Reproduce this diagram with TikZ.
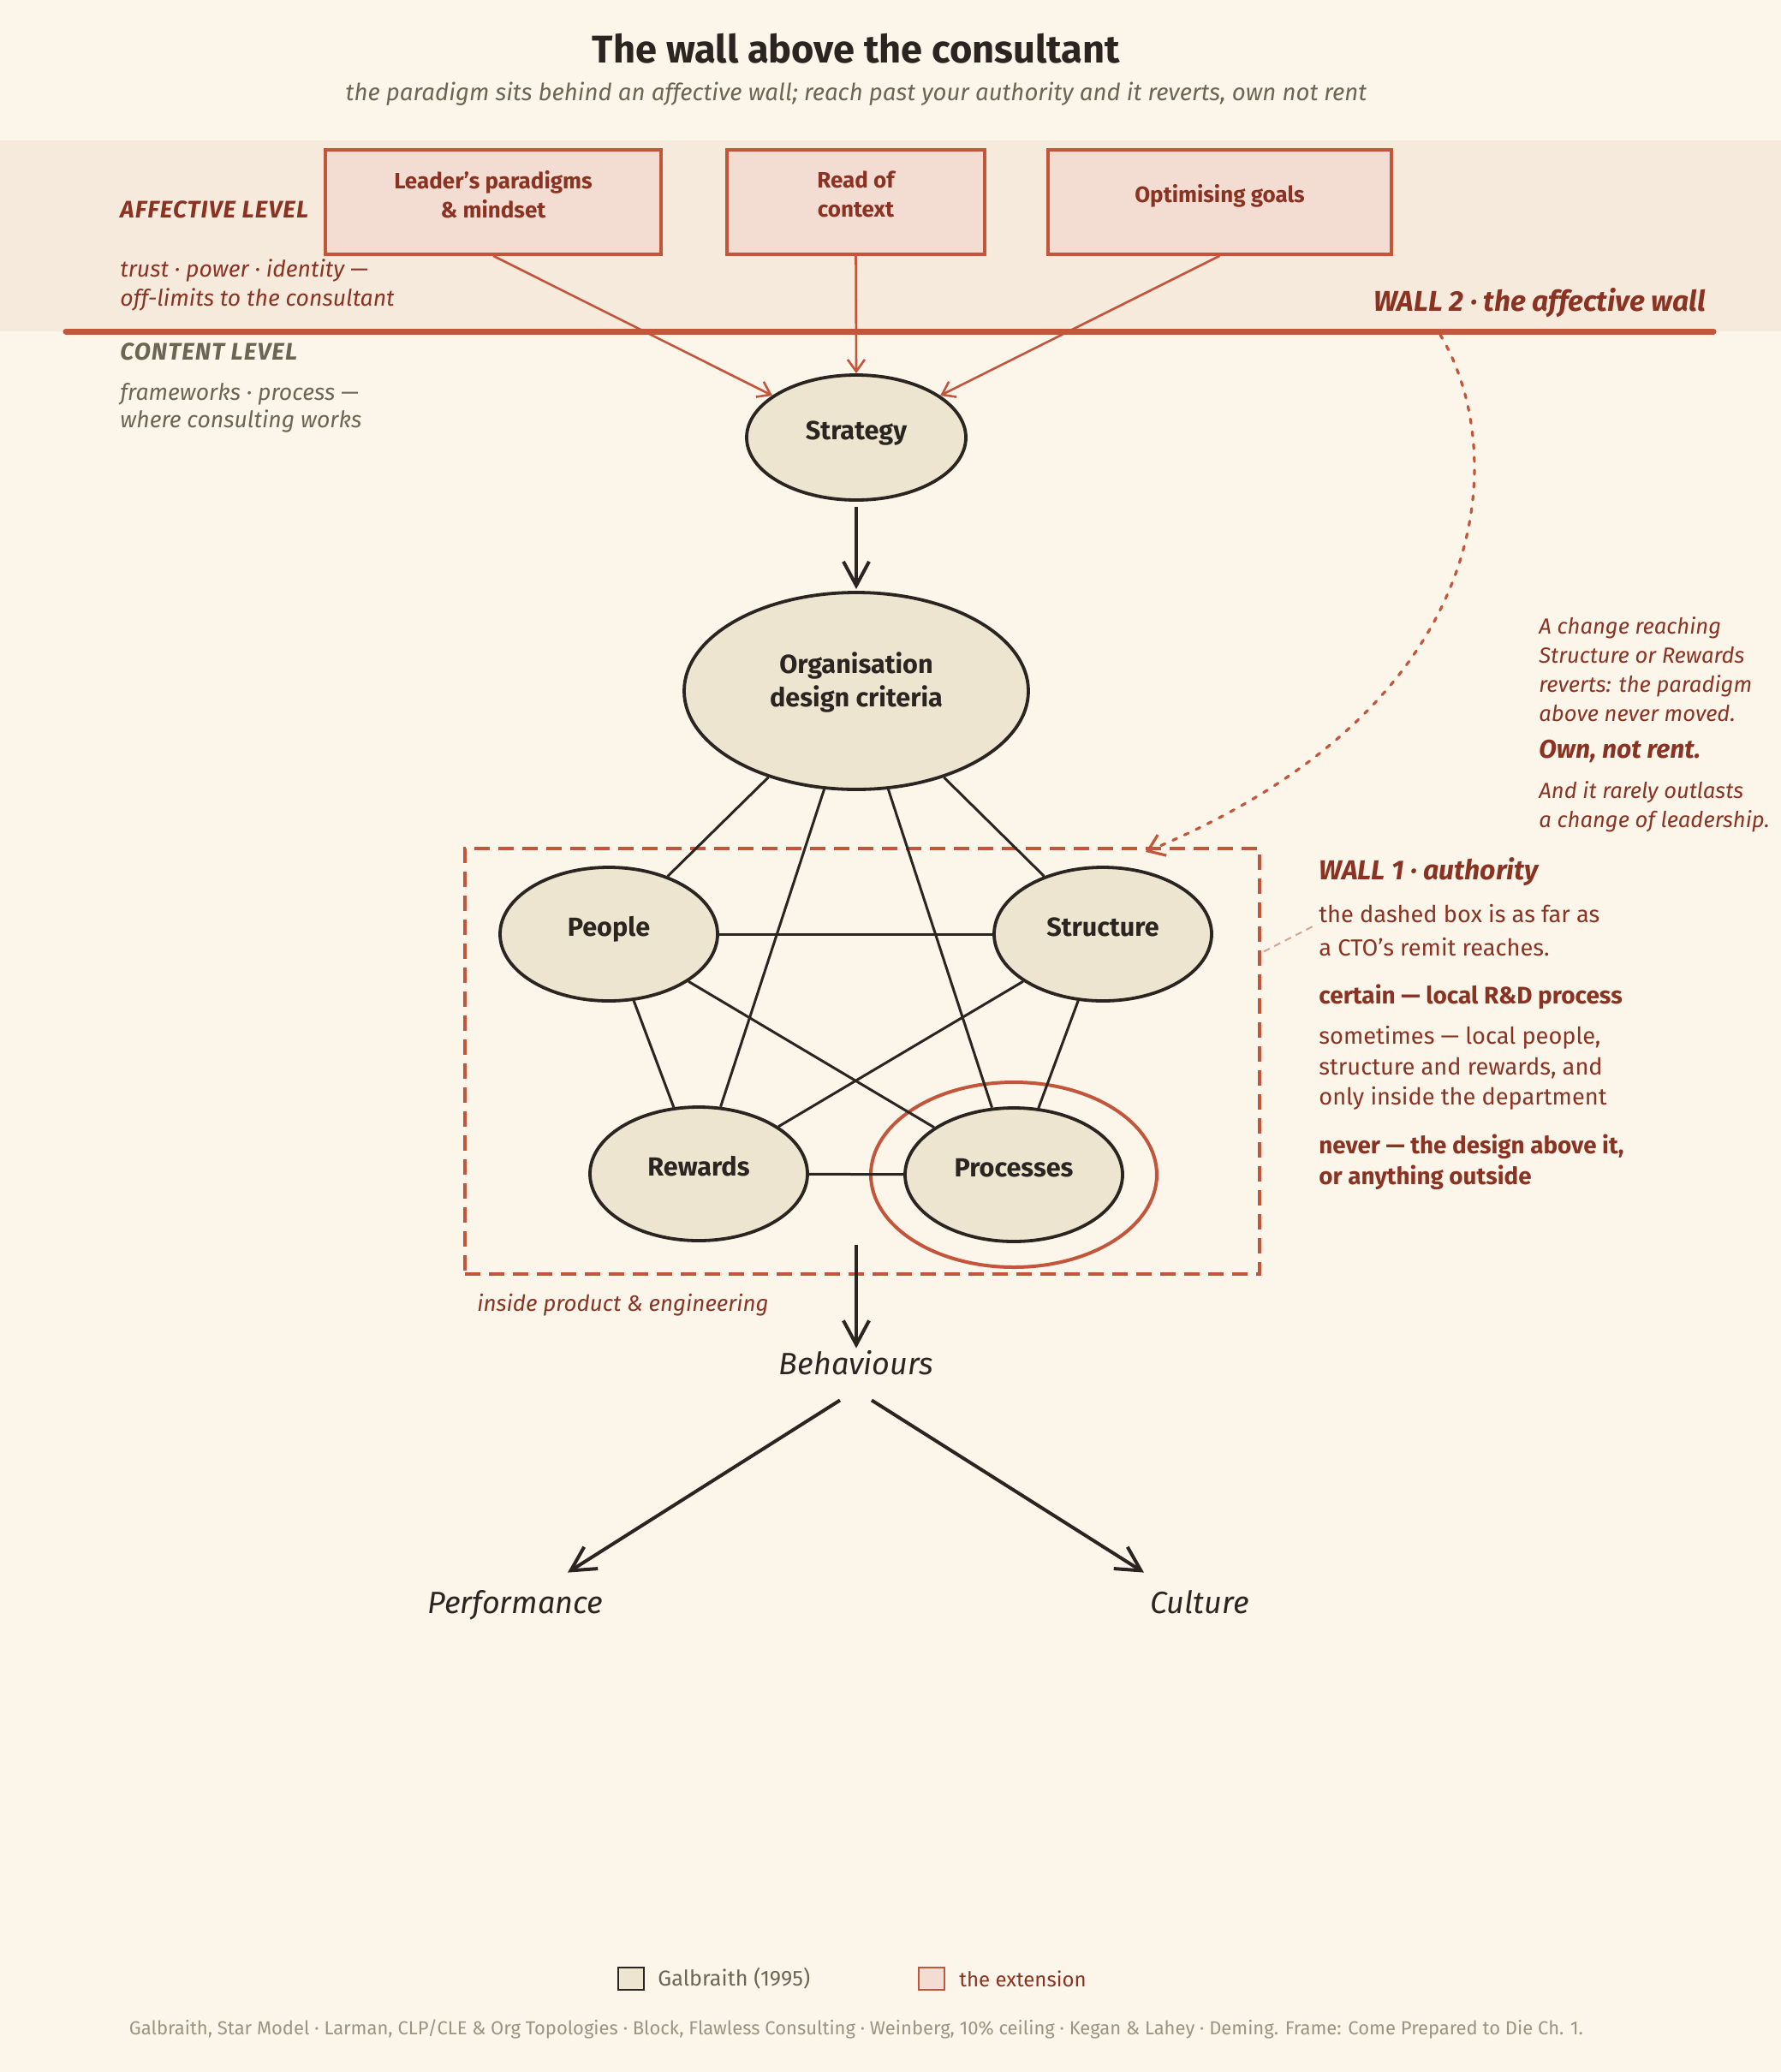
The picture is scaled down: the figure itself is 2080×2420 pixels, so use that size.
\documentclass[tikz,border=0pt]{standalone}
\usepackage{fontspec}
\setmainfont{Fira Sans}
\usetikzlibrary{arrows.meta,shapes.geometric,calc}
\definecolor{bg}{HTML}{FBF5EA}
\definecolor{band}{HTML}{F6EADC}
\definecolor{wallred}{HTML}{C2553A}
\definecolor{dred}{HTML}{8B3322}
\definecolor{boxfill}{HTML}{F3DDD2}
\definecolor{ellfill}{HTML}{EEE5D1}
\definecolor{ink}{HTML}{2A2520}
\definecolor{grayt}{HTML}{6B6553}
\definecolor{footg}{HTML}{9A9482}
\definecolor{faint}{HTML}{D9A294}
\tikzset{
 xbox/.style={draw=wallred, fill=boxfill, line width=1.8pt, inner sep=0, align=center, text=dred, font=\bfseries\fontsize{13}{17}\selectfont, text depth=9pt},
 star/.style={ellipse, draw=ink, fill=ellfill, line width=1.9pt, inner sep=0, align=center, text=ink, font=\bfseries\fontsize{15.3}{19.5}\selectfont, minimum width=127pt, minimum height=78pt, text height=10pt, text depth=8pt},
 link/.style={draw=ink, line width=1.5pt},
 redarr/.style={draw=wallred, line width=1.3pt, -{Straight Barb[length=7pt,width=10pt]}},
 bigarr/.style={draw=ink, line width=2pt, -{Straight Barb[length=14pt,width=15pt]}},
 lab/.style={inner sep=0, anchor=north west, align=left},
 hand/.style={font=\bfseries\itshape\fontsize{14}{17}\selectfont\addfontfeature{LetterSpace=4}},
 outcome/.style={inner sep=2pt, text=ink, font=\itshape\fontsize{18}{22}\selectfont, text height=13pt, text depth=4pt},
}
\begin{document}
\begin{tikzpicture}[x=0.5pt,y=-0.5pt]
\fill[bg] (0,0) rectangle (2080,2420);
\useasboundingbox (0,0) rectangle (2080,2420);
\fill[band] (0,164) rectangle (2080,387);

% title
\node[font=\bfseries\fontsize{22.6}{27}\selectfont, text=ink] (title) at (1000,57) {The wall above the consultant};
\node[font=\itshape\fontsize{13.8}{16}\selectfont, text=grayt] (sub) at (1000,110) {the paradigm sits behind an affective wall; reach past your authority and it reverts, own not rent};

% affective boxes
\node[xbox, minimum width=196pt, minimum height=61pt] (lead) at (576,236) {Leader's paradigms\\\& mindset};
\node[xbox, minimum width=150.5pt, minimum height=61pt] (ctx) at (999.5,236) {Read of\\context};
\node[xbox, minimum width=200.5pt, minimum height=61pt, text depth=10pt] (opt) at (1424.5,236) {Optimising goals};

% wall 2
\coordinate (wallL) at (77,387);
\coordinate (wallR) at (2001,387);
\draw[wallred, line width=3.5pt, line cap=round] (wallL) -- (wallR);

% left labels
\node[lab, hand, text=dred] (afflab) at (140,234) {AFFECTIVE LEVEL};
\node[lab, text=dred, font=\itshape\fontsize{13.3}{17}\selectfont] (afftxt) at (140,302) {trust · power · identity —\\off-limits to the consultant};
\node[lab, hand, text=grayt] (conlab) at (140,400) {CONTENT LEVEL};
\node[lab, text=grayt, font=\itshape\fontsize{13.3}{16}\selectfont] (contxt) at (140,447) {frameworks · process —\\where consulting works};
\node[inner sep=0, anchor=north east, text=dred, font=\bfseries\itshape\fontsize{16.7}{19}\selectfont] (wall2lab) at (1992,336) {WALL 2 · the affective wall};

% remit box
\node[draw=wallred, line width=1.7pt, dash pattern=on 9pt off 5pt, minimum width=464pt, minimum height=248.5pt, inner sep=0] (remit) at (1007,1239.5) {};

% star model
\node[star, minimum width=128pt, minimum height=73pt] (strat) at (1000,511) {Strategy};
\node[star, minimum width=201pt, minimum height=115pt, text height=, text depth=13pt] (odc) at (1000,807) {Organisation\\design criteria};
\node[star] (people) at (711,1091) {People};
\node[star] (struct) at (1288,1091) {Structure};
\node[star] (rew) at (816,1371) {Rewards};
\node[star] (proc) at (1184,1372) {Processes};
\draw[wallred, line width=2pt] (proc.center) ellipse [x radius=167, y radius=108];

\draw[link] (odc) -- (people);
\draw[link] (odc) -- (struct);
\draw[link] (odc) -- (rew);
\draw[link] (odc) -- (proc);
\draw[link] (people) -- (struct);
\draw[link] (people) -- (rew);
\draw[link] (people) -- (proc);
\draw[link] (struct) -- (rew);
\draw[link] (struct) -- (proc);
\draw[link] (rew) -- (proc);

% arrows into strategy
\draw[redarr] (lead.south) -- (strat);
\draw[redarr] (ctx.south) -- (strat.north);
\draw[redarr] (opt.south) -- (strat);
\draw[bigarr, shorten <=3pt, shorten >=1pt] (strat) -- (odc);

% behaviours and outcomes
\node[outcome] (beh) at (1000,1596) {Behaviours};
\node[outcome] (perf) at (602,1875) {Performance};
\node[outcome] (cult) at (1401,1875) {Culture};
\coordinate (bstart) at (1000,1454);
\draw[bigarr] (bstart) -- (beh.north);
\coordinate (bl) at ($(beh.south)+(-19,18)$);
\coordinate (br) at ($(beh.south)+(18,18)$);
\coordinate (pl) at ($(perf.north)+(61,-17)$);
\coordinate (cr) at ($(cult.north)+(-65,-17)$);
\draw[bigarr] (bl) -- (pl);
\draw[bigarr] (br) -- (cr);

\node[lab, text=dred, font=\itshape\fontsize{13}{15}\selectfont] (inside) at (557,1511) {inside product \& engineering};

% dotted arrow from wall 2 to wall 1
\coordinate (w2s) at (1682,391);
\coordinate (w1e) at (1338,995);
\draw[wallred, line width=1.6pt, line cap=round, dash pattern=on 2.5pt off 5pt, -{Straight Barb[length=9pt,width=13pt]}] (w2s) .. controls (1760,520) and (1760,820) .. (w1e);

% right notes
\node[lab, text=dred, font=\itshape\fontsize{12.8}{17}\selectfont] (note1) at (1797,720) {A change reaching\\Structure or Rewards\\reverts: the paradigm\\above never moved.};
\node[lab, text=dred, font=\bfseries\itshape\fontsize{15}{18}\selectfont] (own) at (1797,864) {Own, not rent.};
\node[lab, text=dred, font=\itshape\fontsize{12.8}{17}\selectfont] (note2) at (1797,912) {And it rarely outlasts\\a change of leadership.};

\node[lab, text=dred, font=\bfseries\itshape\fontsize{16}{19}\selectfont] (wall1lab) at (1540,1001) {WALL 1 · authority};
\node[lab, text=dred, font=\fontsize{13.6}{19.3}\selectfont] (remittxt) at (1540,1056) {the dashed box is as far as\\a CTO's remit reaches.};
\node[lab, text=dred, font=\bfseries\fontsize{14}{17.8}\selectfont] (certain) at (1540,1149) {certain — local R\&D process};
\node[lab, text=dred, font=\fontsize{13.6}{17.8}\selectfont] (sometimes) at (1540,1198) {sometimes — local people,\\structure and rewards, and\\only inside the department};
\node[lab, text=dred, font=\bfseries\fontsize{13.9}{17.8}\selectfont] (never) at (1540,1325) {never — the design above it,\\or anything outside};
\coordinate (fc1) at ($(remit.east)+(3,-128)$);
\coordinate (fc2) at (1537,1080);
\draw[faint, line width=1pt, dash pattern=on 4pt off 3pt] (fc1) -- (fc2);

% legend
\node[draw=ink, fill=ellfill, line width=1.3pt, minimum width=15pt, minimum height=13pt, inner sep=0] (lg1) at (737,2311) {};
\node[anchor=west, inner sep=0, text=grayt, font=\fontsize{12.6}{14}\selectfont] (lg1t) at (768,2311) {Galbraith (1995)};
\node[draw=wallred, fill=boxfill, line width=1.3pt, minimum width=15pt, minimum height=13pt, inner sep=0] (lg2) at (1088,2311) {};
\node[anchor=west, inner sep=0, text=dred, font=\fontsize{12}{14}\selectfont] (lg2t) at (1120,2311) {the extension};

\node[text=footg, font=\fontsize{11}{13}\selectfont] (foot) at (1000,2370) {Galbraith, Star Model · Larman, CLP/CLE \& Org Topologies · Block, Flawless Consulting · Weinberg, 10\% ceiling · Kegan \& Lahey · Deming. Frame: Come Prepared to Die Ch. 1.};
\end{tikzpicture}
\end{document}
